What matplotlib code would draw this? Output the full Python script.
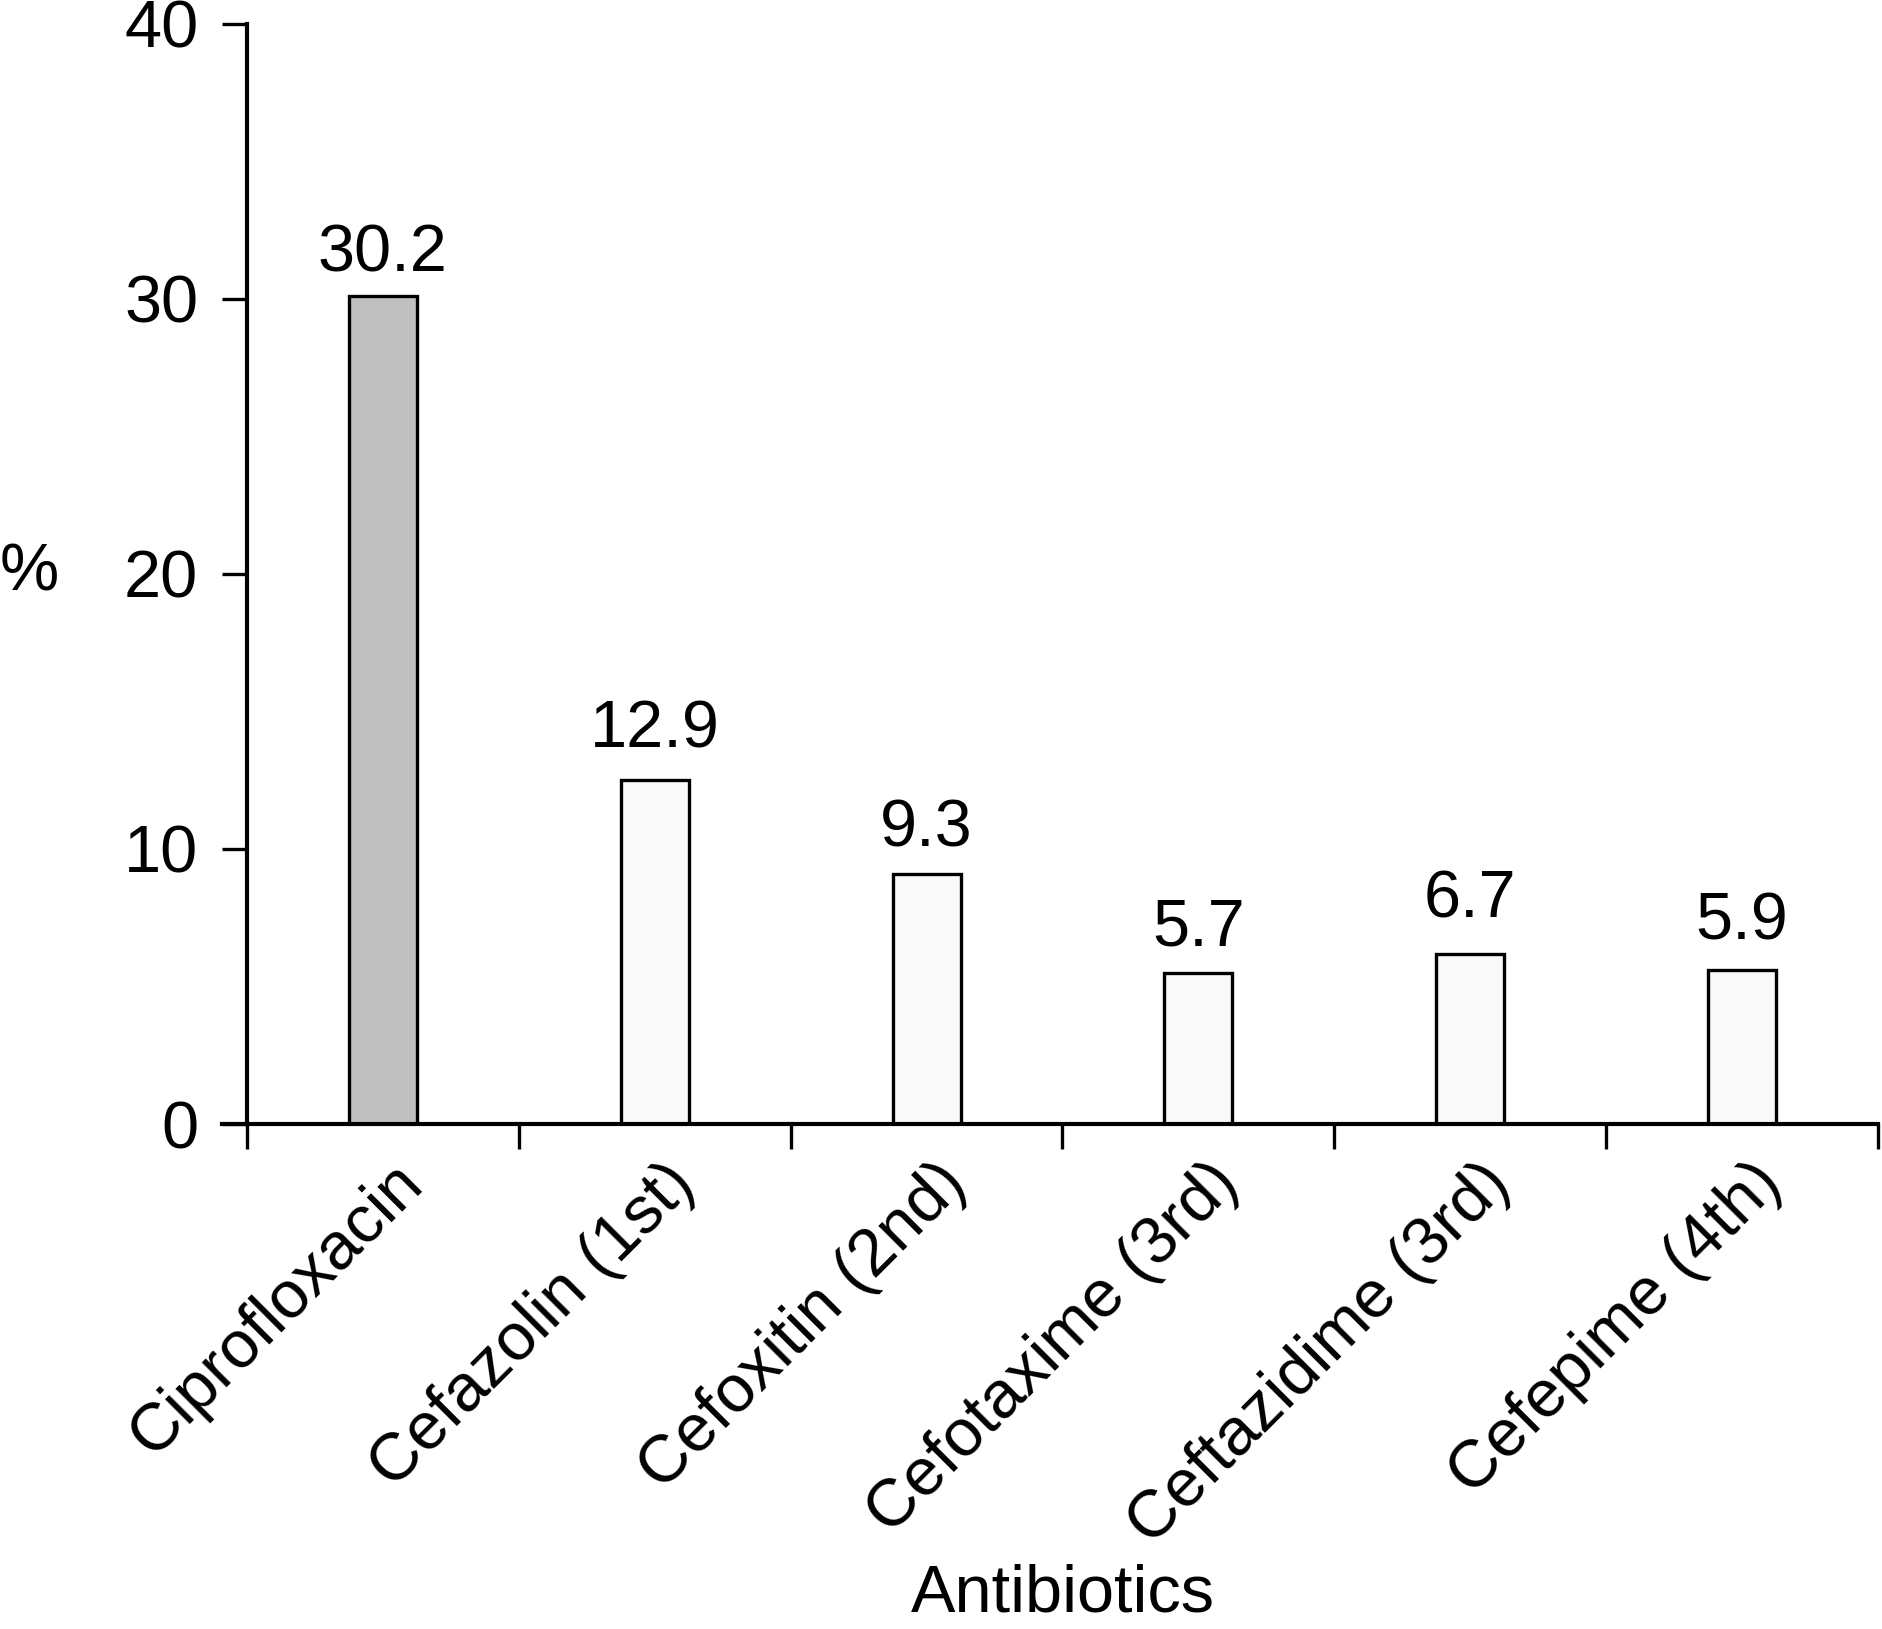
import numpy as np
import matplotlib
matplotlib.use("Agg")
import matplotlib.pyplot as plt
import matplotlib.transforms as mtransforms

plt.rcParams['font.family'] = ['Liberation Sans', 'DejaVu Sans']

# Data
antibiotics = ["Ciprofloxacin", "Cefazolin (1st)", "Cefoxitin (2nd)",
               "Cefotaxime (3rd)", "Ceftazidime (3rd)", "Cefepime (4th)"]
# bar heights as drawn in the picture
bar_heights = [30.1, 12.5, 9.1, 5.5, 6.2, 5.6]
# values printed above the bars
label_values = [30.2, 12.9, 9.3, 5.7, 6.7, 5.9]
y_ticks = [0, 10, 20, 30, 40]

fig = plt.figure(figsize=(18.82, 16.29), dpi=100)
ax = fig.add_axes([0.1312, 0.3100, 0.8667, 0.6753])

x = np.arange(len(antibiotics)) + 0.5
colors = ["#c0c0c0"] + ["#f9f9f9"] * (len(antibiotics) - 1)
ax.bar(x, bar_heights, width=0.25, color=colors, edgecolor="black", linewidth=2.4)

# value labels above each bar
for xi, v in zip(x, label_values):
    ax.annotate(f"{v}", (xi, v), xytext=(0, 16), textcoords="offset points",
                ha="center", va="baseline", fontsize=48)

ax.set_xlim(0, len(antibiotics))
ax.set_ylim(0, 40)
ax.set_yticks(y_ticks)
ax.tick_params(axis="y", direction="out", length=18, width=2.4, pad=17, labelsize=48)

# category labels at centers, ticks at the boundaries
ax.set_xticks(x)
ax.set_xticklabels(antibiotics, rotation=45, ha="right", va="top", fontsize=48)
ax.tick_params(axis="x", which="major", length=0, pad=20)
ax.set_xticks(np.arange(len(antibiotics) + 1), minor=True)
ax.tick_params(axis="x", which="minor", direction="out", length=18, width=2.4)
offset = mtransforms.ScaledTranslation(0.52, 0, fig.dpi_scale_trans)
for lab in ax.get_xticklabels():
    lab.set_transform(lab.get_transform() + offset)

for s in ["top", "right"]:
    ax.spines[s].set_visible(False)
for s in ["left", "bottom"]:
    ax.spines[s].set_linewidth(3)
ax.spines["bottom"].set_bounds(-0.09, len(antibiotics))

ax.set_xlabel("Antibiotics", fontsize=48, va="baseline")
ax.xaxis.set_label_coords(0.5, -0.4436)
ax.set_ylabel("%", fontsize=48, rotation=0, va="center", ha="left")
ax.yaxis.set_label_coords(-0.1514, 0.5)

fig.savefig("out.png", dpi=100)
